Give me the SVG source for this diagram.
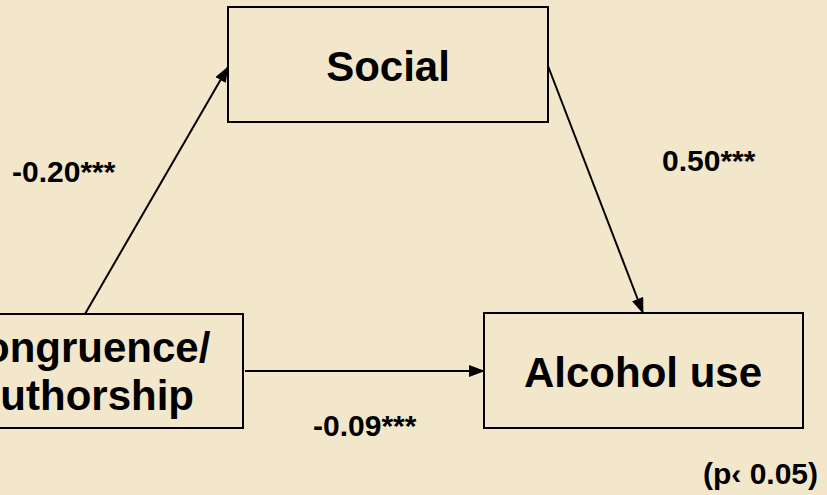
<svg xmlns="http://www.w3.org/2000/svg" width="827" height="495" viewBox="0 0 827 495">
<style>
.box{fill:#F3E7CB;stroke:#000;stroke-width:2}
.node{font-family:"Liberation Sans",Arial,sans-serif;font-weight:bold;font-size:42px;fill:#000;text-anchor:middle}
.lbl{font-family:"Liberation Sans",Arial,sans-serif;font-weight:bold;font-size:30px;fill:#000}
.edge{stroke:#000;stroke-width:2;fill:none;marker-end:url(#ah)}
</style>
<defs>
<marker id="ah" viewBox="0 0 16 12" refX="15" refY="6" markerWidth="16" markerHeight="12" markerUnits="userSpaceOnUse" orient="auto">
<path d="M0,0 L16,6 L0,12 z" fill="#000"/>
</marker>
</defs>
<rect width="827" height="495" fill="#F3E7CB"/>
<g id="connectors">
<line class="edge" x1="85" y1="314" x2="228" y2="67"/>
<line class="edge" x1="548" y1="66" x2="643" y2="313"/>
<line class="edge" x1="245" y1="371" x2="484" y2="371"/>
</g>
<g id="social">
<rect class="box" x="228" y="7" width="320" height="115"/>
<text class="node" x="388" y="81">Social</text>
</g>
<g id="congruence">
<rect class="box" x="-80" y="314" width="323" height="114"/>
<text class="node" x="82" y="362">Congruence/</text>
<text class="node" x="82" y="410">Authorship</text>
</g>
<g id="alcohol">
<rect class="box" x="484" y="313" width="319" height="115"/>
<text class="node" x="643" y="387">Alcohol use</text>
</g>
<g id="labels">
<text class="lbl" x="12" y="182">-0.20***</text>
<text class="lbl" x="662" y="171">0.50***</text>
<text class="lbl" x="313" y="436">-0.09***</text>
<text class="lbl" x="703" y="484">(p‹ 0.05)</text>
</g>
</svg>
